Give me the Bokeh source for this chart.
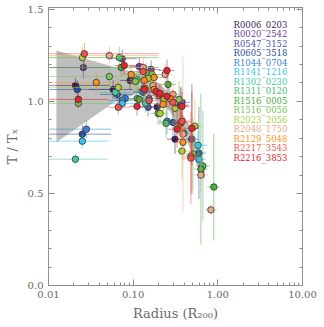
from bokeh.plotting import figure
from bokeh.models import (Range1d, LogAxis, LinearAxis, Label, SingleIntervalTicker,
                          LogTicker, PrintfTickFormatter)
from bokeh.embed import file_html
from bokeh.resources import INLINE
import numpy as np

# ---------------- data ----------------
cluster_names = ["R0006_0203", "R0020_2542", "R0547_3152", "R0605_3518", "R1044_0704",
                 "R1141_1216", "R1302_0230", "R1311_0120", "R1516_0005", "R1516_0056",
                 "R2023_2056", "R2048_1750", "R2129_5048", "R2217_3543", "R2216_3853"]
cluster_colors = ["#3d1a5c", "#6a3d9a", "#4a4fa8", "#2a4d9c", "#3a7fd5",
                  "#35c3ef", "#45c8a5", "#4db870", "#4caf3c", "#7cc456",
                  "#a5d23e", "#e2ad8c", "#f7941d", "#f0524f", "#e4262b"]

# per cluster: radius, T/Tx, radius low, radius high, T error
R0006_r = [0.0208, 0.058, 0.092, 0.192, 0.312, 0.36]
R0006_t = [1.087, 1.065, 1.114, 0.970, 0.795, 0.98]
R0006_rlo = [0.005, 0.03, 0.07, 0.15, 0.25, 0.30]
R0006_rhi = [0.054, 0.10, 0.13, 0.25, 0.40, 0.45]
R0006_e = [0.04, 0.05, 0.05, 0.06, 0.08, 0.1]

R0020_r = [0.0258, 0.0742, 0.118, 0.163, 0.494]
R0020_t = [1.184, 1.232, 1.189, 1.173, 0.795]
R0020_rlo = [0.005, 0.05, 0.09, 0.13, 0.40]
R0020_rhi = [0.054, 0.11, 0.16, 0.21, 0.60]
R0020_e = [0.06, 0.05, 0.05, 0.05, 0.3]

R0547_r = [0.131, 0.150, 0.265, 0.377]
R0547_t = [1.049, 0.968, 1.022, 0.995]
R0547_rlo = [0.10, 0.12, 0.21, 0.30]
R0547_rhi = [0.17, 0.19, 0.33, 0.47]
R0547_e = [0.05, 0.05, 0.06, 0.08]

R0605_r = [0.0251, 0.0219, 0.0648, 0.2955, 0.598]
R0605_t = [0.822, 1.065, 1.038, 0.886, 0.719]
R0605_rlo = [0.005, 0.005, 0.04, 0.24, 0.5]
R0605_rhi = [0.055, 0.054, 0.10, 0.36, 0.72]
R0605_e = [0.05, 0.05, 0.05, 0.07, 0.25]

R1044_r = [0.028, 0.0805, 0.0742, 0.128, 0.154, 0.251]
R1044_t = [0.849, 1.016, 1.005, 1.054, 1.016, 0.892]
R1044_rlo = [0.005, 0.06, 0.05, 0.10, 0.12, 0.20]
R1044_rhi = [0.055, 0.11, 0.10, 0.16, 0.20, 0.31]
R1044_e = [0.05, 0.04, 0.04, 0.05, 0.05, 0.07]

R1141_r = [0.0251, 0.0742, 0.1347, 0.2254, 0.582, 0.598]
R1141_t = [0.784, 0.989, 1.070, 1.016, 0.762, 0.686]
R1141_rlo = [0.005, 0.05, 0.11, 0.18, 0.48, 0.5]
R1141_rhi = [0.052, 0.11, 0.17, 0.28, 0.75, 0.72]
R1141_e = [0.04, 0.04, 0.05, 0.06, 0.08, 0.1]

R1302_r = [0.0208, 0.0614, 0.14, 0.398]
R1302_t = [0.686, 1.049, 0.99, 0.827]
R1302_rlo = [0.005, 0.04, 0.11, 0.32]
R1302_rhi = [0.05, 0.10, 0.18, 0.48]
R1302_e = [0.03, 0.04, 0.05, 0.08]

R1311_r = [0.0685, 0.111, 0.1114, 0.2445, 0.666]
R1311_t = [1.238, 1.119, 1.016, 0.881, 0.649]
R1311_rlo = [0.005, 0.09, 0.09, 0.20, 0.55]
R1311_rhi = [0.2, 0.14, 0.14, 0.30, 0.80]
R1311_e = [0.06, 0.05, 0.05, 0.08, 0.3]

R15160005_r = [0.0722, 0.142, 0.1177, 0.258, 0.197, 0.631, 0.897]
R15160005_t = [1.184, 1.157, 1.011, 1.092, 0.935, 0.632, 0.535]
R15160005_rlo = [0.005, 0.11, 0.09, 0.21, 0.16, 0.52, 0.75]
R15160005_rhi = [0.2, 0.18, 0.15, 0.32, 0.24, 0.76, 1.05]
R15160005_e = [0.05, 0.05, 0.05, 0.07, 0.06, 0.41, 0.29]

R15160056_r = [0.0225, 0.0523, 0.167, 0.106, 0.3478, 0.508]
R15160056_t = [0.989, 1.135, 1.146, 1.108, 1.011, 0.714]
R15160056_rlo = [0.005, 0.005, 0.13, 0.08, 0.28, 0.42]
R15160056_rhi = [0.055, 0.2, 0.21, 0.14, 0.43, 0.62]
R15160056_e = [0.03, 0.05, 0.05, 0.05, 0.1, 0.2]

R2023_r = [0.0251, 0.0667, 0.150, 0.2316, 0.3122, 0.2078, 0.377, 0.536]
R2023_t = [1.238, 1.076, 1.124, 1.011, 0.962, 0.935, 0.730, 0.865]
R2023_rlo = [0.005, 0.005, 0.12, 0.19, 0.25, 0.17, 0.30, 0.44]
R2023_rhi = [0.15, 0.2, 0.19, 0.28, 0.39, 0.26, 0.47, 0.66]
R2023_e = [0.06, 0.05, 0.05, 0.06, 0.08, 0.06, 0.15, 0.15]

R2048_r = [0.0523, 0.131, 0.172, 0.238, 0.2955, 0.387, 0.631, 0.828]
R2048_t = [1.249, 1.184, 1.086, 1.146, 1.038, 0.822, 0.600, 0.411]
R2048_rlo = [0.005, 0.10, 0.14, 0.19, 0.24, 0.31, 0.52, 0.7]
R2048_rhi = [0.2, 0.17, 0.21, 0.29, 0.36, 0.48, 0.76, 1.0]
R2048_e = [0.05, 0.05, 0.05, 0.06, 0.07, 0.42, 0.1, 0.03]

R2129_r = [0.0367, 0.0947, 0.1347, 0.1384, 0.1767, 0.1767, 0.2724, 0.2254, 0.357, 0.387, 0.481]
R2129_t = [1.103, 1.146, 1.114, 1.070, 1.130, 1.065, 1.016, 0.984, 0.876, 0.778, 0.703]
R2129_rlo = [0.005, 0.07, 0.10, 0.11, 0.14, 0.14, 0.22, 0.18, 0.29, 0.31, 0.39]
R2129_rhi = [0.07, 0.13, 0.17, 0.17, 0.22, 0.22, 0.33, 0.28, 0.44, 0.48, 0.59]
R2129_e = [0.06, 0.05, 0.05, 0.05, 0.05, 0.05, 0.06, 0.06, 0.08, 0.1, 0.2]

R2217_r = [0.0265, 0.131, 0.0667, 0.154, 0.2022, 0.2955, 0.367, 0.481, 0.377]
R2217_t = [1.259, 1.162, 0.968, 1.005, 1.032, 0.995, 0.886, 0.692, 0.892]
R2217_rlo = [0.005, 0.10, 0.05, 0.12, 0.16, 0.24, 0.29, 0.39, 0.30]
R2217_rhi = [0.2, 0.17, 0.09, 0.19, 0.25, 0.36, 0.46, 0.59, 0.47]
R2217_e = [0.06, 0.05, 0.04, 0.05, 0.06, 0.07, 0.08, 0.25, 0.1]

R2216_r = [0.0784, 0.251, 0.0225, 0.111, 0.1865, 0.2078, 0.1347, 0.251, 0.377, 0.33, 0.494]
R2216_t = [1.195, 1.168, 1.011, 0.973, 1.054, 1.043, 1.065, 1.027, 0.973, 0.849, 0.854]
R2216_rlo = [0.06, 0.20, 0.005, 0.09, 0.15, 0.17, 0.11, 0.20, 0.30, 0.26, 0.40]
R2216_rhi = [0.11, 0.31, 0.05, 0.14, 0.23, 0.26, 0.17, 0.31, 0.47, 0.41, 0.60]
R2216_e = [0.05, 0.06, 0.04, 0.05, 0.05, 0.05, 0.05, 0.06, 0.08, 0.1, 0.2]

cluster_data = [
    (R0006_r, R0006_t, R0006_rlo, R0006_rhi, R0006_e),
    (R0020_r, R0020_t, R0020_rlo, R0020_rhi, R0020_e),
    (R0547_r, R0547_t, R0547_rlo, R0547_rhi, R0547_e),
    (R0605_r, R0605_t, R0605_rlo, R0605_rhi, R0605_e),
    (R1044_r, R1044_t, R1044_rlo, R1044_rhi, R1044_e),
    (R1141_r, R1141_t, R1141_rlo, R1141_rhi, R1141_e),
    (R1302_r, R1302_t, R1302_rlo, R1302_rhi, R1302_e),
    (R1311_r, R1311_t, R1311_rlo, R1311_rhi, R1311_e),
    (R15160005_r, R15160005_t, R15160005_rlo, R15160005_rhi, R15160005_e),
    (R15160056_r, R15160056_t, R15160056_rlo, R15160056_rhi, R15160056_e),
    (R2023_r, R2023_t, R2023_rlo, R2023_rhi, R2023_e),
    (R2048_r, R2048_t, R2048_rlo, R2048_rhi, R2048_e),
    (R2129_r, R2129_t, R2129_rlo, R2129_rhi, R2129_e),
    (R2217_r, R2217_t, R2217_rlo, R2217_rhi, R2217_e),
    (R2216_r, R2216_t, R2216_rlo, R2216_rhi, R2216_e),
]

# model envelope (grey band)
band_r = [0.0124, 0.0614, 0.114, 0.18, 0.208, 0.27, 0.312, 0.41, 0.47, 0.536, 0.61, 0.70]
band_hi = [1.276, 1.186, 1.151, 1.11, 1.097, 1.035, 1.0, 0.91, 0.865, 0.80, 0.73, 0.64]
band_lo = [0.778, 1.0, 1.043, 1.027, 0.998, 0.946, 0.898, 0.81, 0.743, 0.676, 0.62, 0.58]

x_title = "Radius (R\u2082\u2080\u2080)"
y_title = "T / T\u2093"

AX = "#8f8f8f"
TXT = "#6a6a6a"
FONT = "DejaVu Serif"

p = figure(frame_width=254, frame_height=278, x_axis_type="log",
           x_range=Range1d(0.01, 10), y_range=Range1d(0, 1.51),
           output_backend="svg", toolbar_location=None,
           min_border_left=48, min_border_right=20, min_border_top=7, min_border_bottom=40,
           background_fill_color="white", border_fill_color="white")
p.grid.visible = False
p.outline_line_color = AX

p.varea(x=band_r, y1=band_lo, y2=band_hi, fill_color="#bebebe")

for (r, t, rlo, rhi, e), col in zip(cluster_data, cluster_colors):
    r = np.array(r); t = np.array(t); e = np.array(e)
    p.segment(x0=rlo, y0=t, x1=rhi, y1=t, line_color=col, line_alpha=0.55, line_width=1)
    p.segment(x0=r, y0=t - e, x1=r, y1=t + e, line_color=col, line_alpha=0.55, line_width=1)
    p.scatter(x=r, y=t, size=6.5, fill_color=col, line_color="#333333", line_width=0.8)

def style(ax, labels=True):
    ax.axis_line_color = AX
    ax.major_tick_line_color = AX
    ax.minor_tick_line_color = AX
    ax.major_tick_in = 6
    ax.major_tick_out = 0
    ax.minor_tick_in = 3
    ax.minor_tick_out = 0
    ax.major_label_text_font = FONT
    ax.major_label_text_font_size = "10px"
    ax.major_label_text_color = TXT
    ax.major_label_standoff = 5
    ax.axis_label_text_font = FONT
    ax.axis_label_text_font_size = "13px"
    ax.axis_label_text_font_style = "normal"
    ax.axis_label_text_color = TXT
    ax.axis_label_standoff = 5
    if not labels:
        ax.major_label_text_font_size = "1px"
        ax.major_label_text_alpha = 0
        ax.major_label_standoff = 0

xb = p.xaxis[0]
xb.ticker = LogTicker(desired_num_ticks=4, num_minor_ticks=10, mantissas=[1])
xb.formatter = PrintfTickFormatter(format="%.2f")
style(xb)
xb.axis_label = x_title
yl = p.yaxis[0]
yl.ticker = SingleIntervalTicker(interval=0.5, num_minor_ticks=5)
yl.formatter = PrintfTickFormatter(format="%.1f")
style(yl)
yl.axis_label = y_title

xt = LogAxis(ticker=LogTicker(desired_num_ticks=4, num_minor_ticks=10, mantissas=[1]))
style(xt, labels=False)
p.add_layout(xt, "above")
yr = LinearAxis(ticker=SingleIntervalTicker(interval=0.5, num_minor_ticks=5))
style(yr, labels=False)
p.add_layout(yr, "right")

# legend (cluster names in their colours)
for i, (name, col) in enumerate(zip(cluster_names, cluster_colors)):
    p.add_layout(Label(x=185, y=261 - 9.5 * i, x_units="screen", y_units="screen",
                       text=name, text_align="left", text_baseline="middle",
                       text_font=FONT, text_font_size="8.5px", text_color=col))

open("out.html", "w").write(file_html(p, INLINE))
